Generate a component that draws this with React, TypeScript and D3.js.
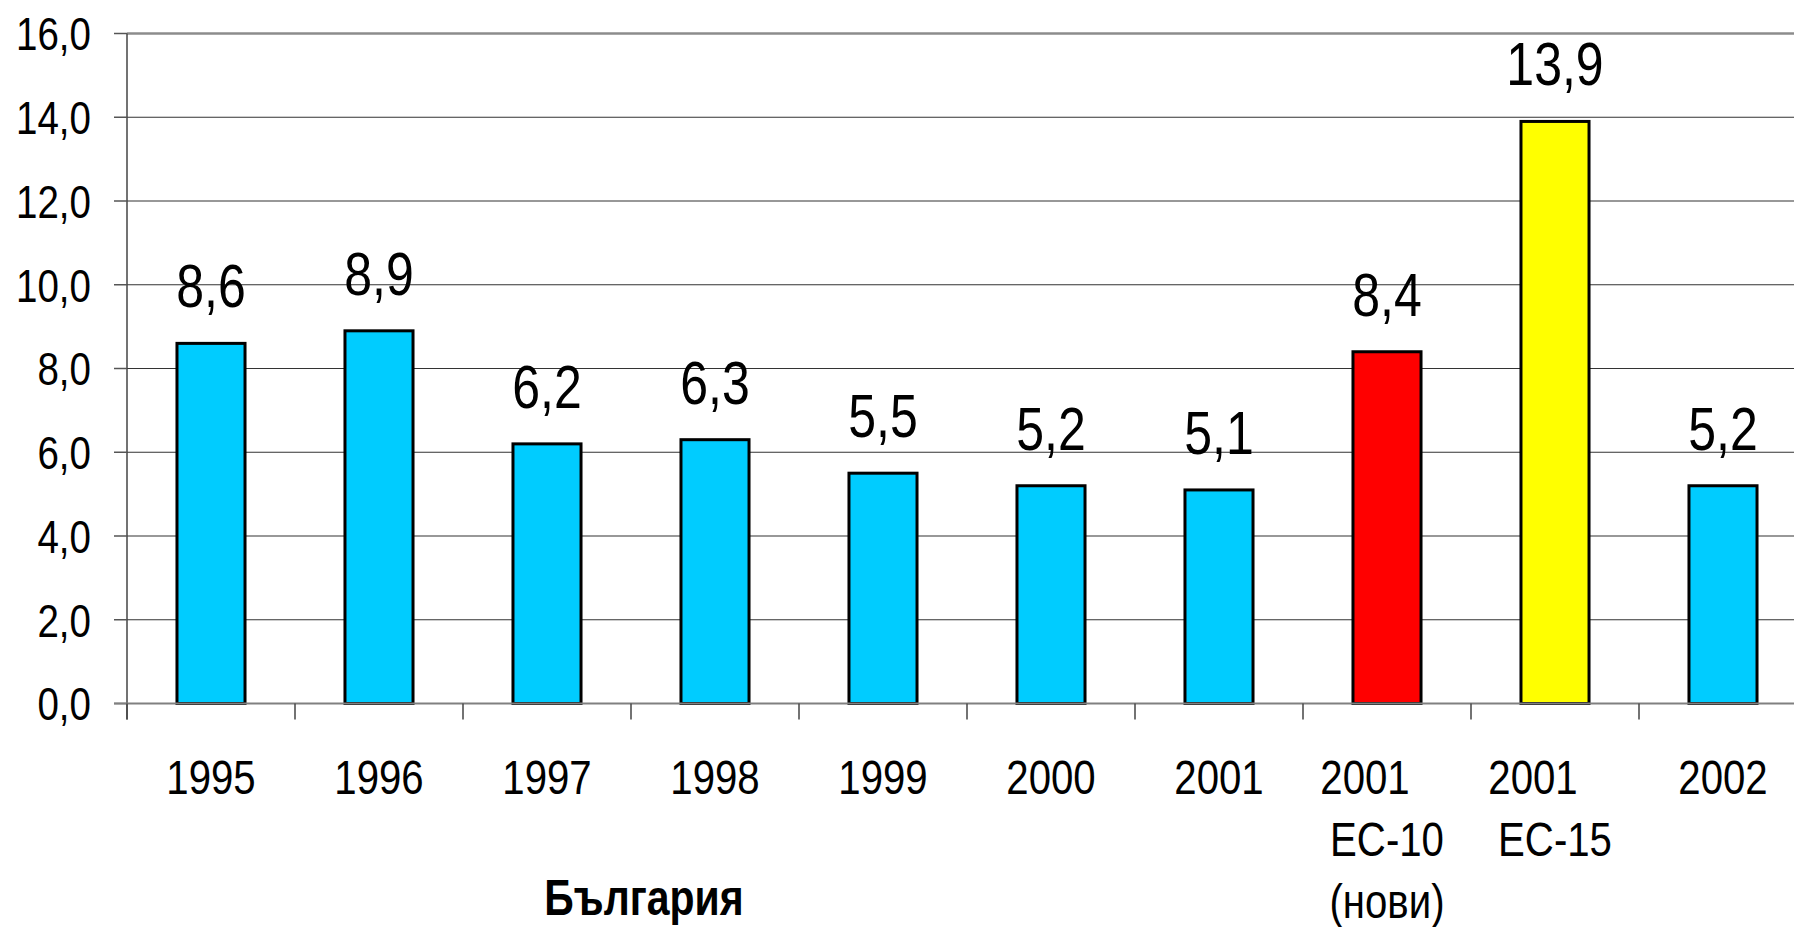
import * as d3 from 'd3';
import React, { useEffect, useRef } from 'react';

// data
const categories = ['1995', '1996', '1997', '1998', '1999', '2000', '2001', '2001\nЕС-10\n(нови)', '2001\nЕС-15', '2002'];
const values = [8.6, 8.9, 6.2, 6.3, 5.5, 5.2, 5.1, 8.4, 13.9, 5.2];
const barColors = ['#00CCFF', '#00CCFF', '#00CCFF', '#00CCFF', '#00CCFF', '#00CCFF', '#00CCFF', '#FF0000', '#FFFF00', '#00CCFF'];
const yTicks = [0, 2, 4, 6, 8, 10, 12, 14, 16];
const axisTitle = 'България';

// no narrow font installed -> squeeze Liberation Sans horizontally
const FONT = '"Liberation Sans", Arial, sans-serif';
const NARROW = 0.82;

function App() {
    const ref = useRef(null);

    useEffect(() => {
        const svg = d3.select(ref.current);
        svg.selectAll('*').remove();

        const width = 1794, height = 927;
        const left = 127, step = 168;
        const y0 = 703.5, yTop = 33.5;

        const fmt = d3.formatLocale({ decimal: ',', thousands: ' ', grouping: [3], currency: ['', ''] }).format('.1f');

        // text placed at (x, y), squeezed like Arial Narrow
        const label = (x, y, txt, size, anchor = 'middle', dy = '0', weight = 'normal') => {
            svg.append('g')
                .attr('transform', `translate(${x},${y}) scale(${NARROW},1)`)
                .append('text')
                .attr('dy', dy)
                .attr('text-anchor', anchor)
                .style('font-family', FONT)
                .style('font-size', size + 'px')
                .style('font-weight', weight)
                .text(txt);
        };

        const ids = categories.map((c, i) => String(i));
        const x = d3.scaleBand()
            .domain(ids)
            .range([left, left + step * categories.length])
            .paddingInner(0.595)
            .paddingOuter(0.2975);
        const y = d3.scaleLinear().domain([0, 16]).range([y0, yTop]);

        svg.append('rect').attr('width', width).attr('height', height).attr('fill', 'white');

        // gridlines
        svg.selectAll('line.grid')
            .data(yTicks.filter(t => t > 0 && t < 16))
            .enter()
            .append('line')
            .attr('x1', left).attr('x2', width)
            .attr('y1', d => y(d)).attr('y2', d => y(d))
            .attr('stroke', '#333').attr('stroke-width', 1.2);

        // top border of plot area
        svg.append('line')
            .attr('x1', left).attr('x2', width)
            .attr('y1', y(16)).attr('y2', y(16))
            .attr('stroke', '#8c8c8c').attr('stroke-width', 2.5);

        // y axis + ticks
        svg.append('line')
            .attr('x1', left).attr('x2', left)
            .attr('y1', y(16)).attr('y2', y0 + 16)
            .attr('stroke', '#444').attr('stroke-width', 1.5);
        svg.selectAll('line.ytick')
            .data(yTicks)
            .enter()
            .append('line')
            .attr('x1', left - 13).attr('x2', left)
            .attr('y1', d => y(d)).attr('y2', d => y(d))
            .attr('stroke', '#555').attr('stroke-width', 1.5);
        yTicks.forEach(t => label(91, y(t), fmt(t), 47, 'end', '0.36em'));

        // bars
        svg.selectAll('rect.bar')
            .data(values)
            .enter()
            .append('rect')
            .attr('x', (d, i) => x(ids[i]))
            .attr('width', x.bandwidth())
            .attr('y', d => y(d))
            .attr('height', d => y0 - y(d))
            .attr('fill', (d, i) => barColors[i])
            .attr('stroke', '#000')
            .attr('stroke-width', 3);

        // x axis line + ticks between categories
        svg.append('line')
            .attr('x1', left - 13).attr('x2', width)
            .attr('y1', y0).attr('y2', y0)
            .attr('stroke', '#808080').attr('stroke-width', 2);
        svg.selectAll('line.xtick')
            .data(d3.range(categories.length + 1))
            .enter()
            .append('line')
            .attr('x1', i => left + i * step).attr('x2', i => left + i * step)
            .attr('y1', y0).attr('y2', y0 + 16)
            .attr('stroke', '#444').attr('stroke-width', 1.5);

        // value labels
        values.forEach((v, i) => label(x(ids[i]) + x.bandwidth() / 2, y(v) - 36, fmt(v), 61));

        // category labels (first line of wrapped ones sits a bit left, as in the original)
        categories.forEach((c, i) => {
            const lines = c.split('\n');
            const cx = x(ids[i]) + x.bandwidth() / 2;
            lines.forEach((l, j) => {
                label(cx + (lines.length > 1 && j === 0 ? -22 : 0), 794 + j * 62, l, 49);
            });
        });

        label(644, 915, axisTitle, 50, 'middle', '0', 'bold');
    }, []);

    return (
        <svg ref={ref} width={1794} height={927} style={{ position: 'absolute', left: 0, top: 0 }}></svg>
    );
}

export default App;
